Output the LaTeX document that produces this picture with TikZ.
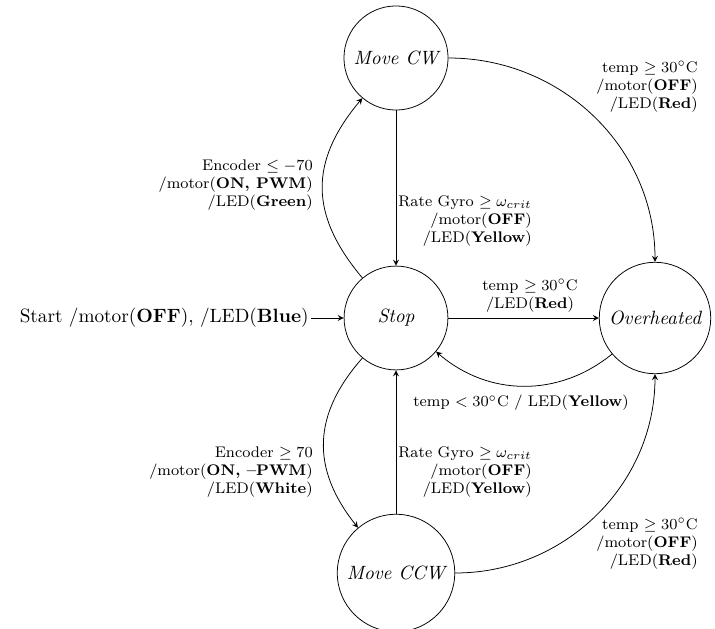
\documentclass[tikz,border=0pt]{standalone}
\usetikzlibrary{arrows}
\begin{document}
\begin{tikzpicture}[x=0.52pt,y=-0.52pt,>=stealth,
  statenode/.style={circle,draw,minimum size=54pt,inner sep=4pt,font=\itshape},
  lbl/.style={font=\footnotesize,align=right,inner sep=1pt},
  tr/.style={->,thin}]
\useasboundingbox (0,0) rectangle (715,628);
\node[statenode] (cw) at (396,58) {Move CW};
\node[statenode] (stop) at (396,318) {Stop};
\node[statenode] (oh) at (655,318) {Overheated};
\node[statenode] (ccw) at (396,573) {Move CCW};
\node[anchor=east,inner sep=1pt] (start) at (311,318) {Start /motor(\textbf{OFF}), /LED(\textbf{Blue})};
\draw[tr] (start) -- (stop);
\draw[tr] (cw) -- (stop);
\draw[tr] (stop) to[bend left=40,looseness=1.18] (cw);
\draw[tr] (stop) -- (oh);
\draw[tr] (oh) to[bend left=40] (stop);
\draw[tr] (stop) to[bend right=40,looseness=1.14] (ccw);
\draw[tr] (ccw) -- (stop);
\draw[tr] (cw.east) to[out=0,in=90] (oh.north);
\draw[tr] (ccw.east) to[out=0,in=270] (oh.south);
\node[lbl,anchor=east] (l1) at (534,221) {Rate Gyro $\geq \omega_{crit}$\\/motor(\textbf{OFF})\\/LED(\textbf{Yellow})};
\node[lbl,anchor=east] (l2) at (315,185) {Encoder $\leq -70$\\/motor(\textbf{ON, PWM})\\/LED(\textbf{Green})};
\node[lbl,align=center] (l3) at (530,296) {temp $\geq 30^\circ$C\\/LED(\textbf{Red})};
\node[lbl] (l4) at (521,403) {temp $< 30^\circ$C / LED(\textbf{Yellow})};
\node[lbl,anchor=east] (l5) at (700,87) {temp $\geq 30^\circ$C\\/motor(\textbf{OFF})\\/LED(\textbf{Red})};
\node[lbl,anchor=east] (l6) at (315,472) {Encoder $\geq 70$\\/motor(\textbf{ON, --PWM})\\/LED(\textbf{White})};
\node[lbl,anchor=east] (l7) at (534,472) {Rate Gyro $\geq \omega_{crit}$\\/motor(\textbf{OFF})\\/LED(\textbf{Yellow})};
\node[lbl,anchor=east] (l8) at (700,544) {temp $\geq 30^\circ$C\\/motor(\textbf{OFF})\\/LED(\textbf{Red})};
\end{tikzpicture}
\end{document}
